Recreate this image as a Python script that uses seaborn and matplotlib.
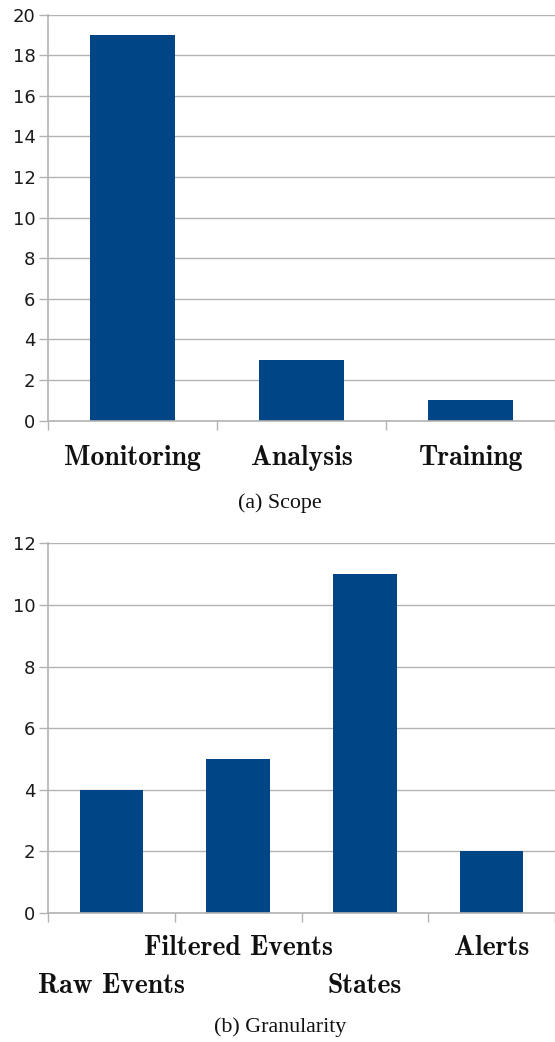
import matplotlib
matplotlib.use("Agg")
import matplotlib.pyplot as plt
import seaborn as sns
from matplotlib.transforms import blended_transform_factory, ScaledTranslation

# ---- data ----
scope_categories = ["Monitoring", "Analysis", "Training"]
scope_values = [19, 3, 1]
scope_yticks = [0, 2, 4, 6, 8, 10, 12, 14, 16, 18, 20]

gran_categories = ["Raw Events", "Filtered Events", "States", "Alerts"]
gran_values = [4, 5, 11, 2]
gran_yticks = [0, 2, 4, 6, 8, 10, 12]

captions = ["(a) Scope", "(b) Granularity"]

sns.set_theme(style="white")
BAR = "#004586"
GRID = "#b3b3b3"
W, H = 555, 1042

fig = plt.figure(figsize=(W / 100, H / 100), dpi=100)


def axes_px(l, t, r, b):
    return fig.add_axes([l / W, 1 - b / H, (r - l) / W, (b - t) / H])


def style_axes(ax, cats, vals, yticks, label_offsets):
    sns.barplot(x=cats, y=vals, order=cats, color=BAR, saturation=1,
                width=0.5, ax=ax, edgecolor="none", linewidth=0)
    n = len(cats)
    ax.set_xlim(-0.5, n - 0.5)
    ax.set_ylim(yticks[0], yticks[-1])
    ax.set_yticks(yticks)
    ax.set_yticklabels([str(t) for t in yticks], fontfamily="DejaVu Sans",
                       fontsize=13, color="#1a1a1a")
    ax.set_xticks(range(n))
    ax.set_xticklabels([""] * n)
    ax.set_xticks([i - 0.5 for i in range(n + 1)], minor=True)
    ax.tick_params(axis="x", which="major", length=0)
    ax.tick_params(axis="x", which="minor", length=6.8, width=1.0, color=GRID,
                   bottom=True)
    ax.tick_params(axis="y", which="major", length=6.5, width=1.0, color=GRID,
                   left=True, pad=2.5)
    ax.yaxis.grid(True, color=GRID, linewidth=1.0)
    ax.xaxis.grid(False)
    ax.set_axisbelow(True)
    for s in ["top", "right"]:
        ax.spines[s].set_visible(False)
    for s in ["left", "bottom"]:
        ax.spines[s].set_color(GRID)
        ax.spines[s].set_linewidth(1.2)
    ax.set_xlabel("")
    ax.set_ylabel("")
    base = blended_transform_factory(ax.transData, ax.transAxes)
    for i, c in enumerate(cats):
        off = label_offsets[i % len(label_offsets)]
        tr = base + ScaledTranslation(0, -off / 100, fig.dpi_scale_trans)
        ax.text(i, 0, c, transform=tr, ha="center", va="center",
                fontfamily="cmb10", fontsize=20, color="#111111")


ax1 = axes_px(48, 14.5, 555, 420.7)
style_axes(ax1, scope_categories, scope_values, scope_yticks, [37])

ax2 = axes_px(48, 543.3, 555, 913)
style_axes(ax2, gran_categories, gran_values, gran_yticks, [73, 35])

fig.text(280 / W, 1 - 503 / H, captions[0], ha="center", va="center",
         fontfamily="Liberation Serif", fontsize=15.8, color="#111111")
fig.text(280 / W, 1 - 1027 / H, captions[1], ha="center", va="center",
         fontfamily="Liberation Serif", fontsize=15.8, color="#111111")

fig.savefig("out.png", dpi=100, facecolor="white")
